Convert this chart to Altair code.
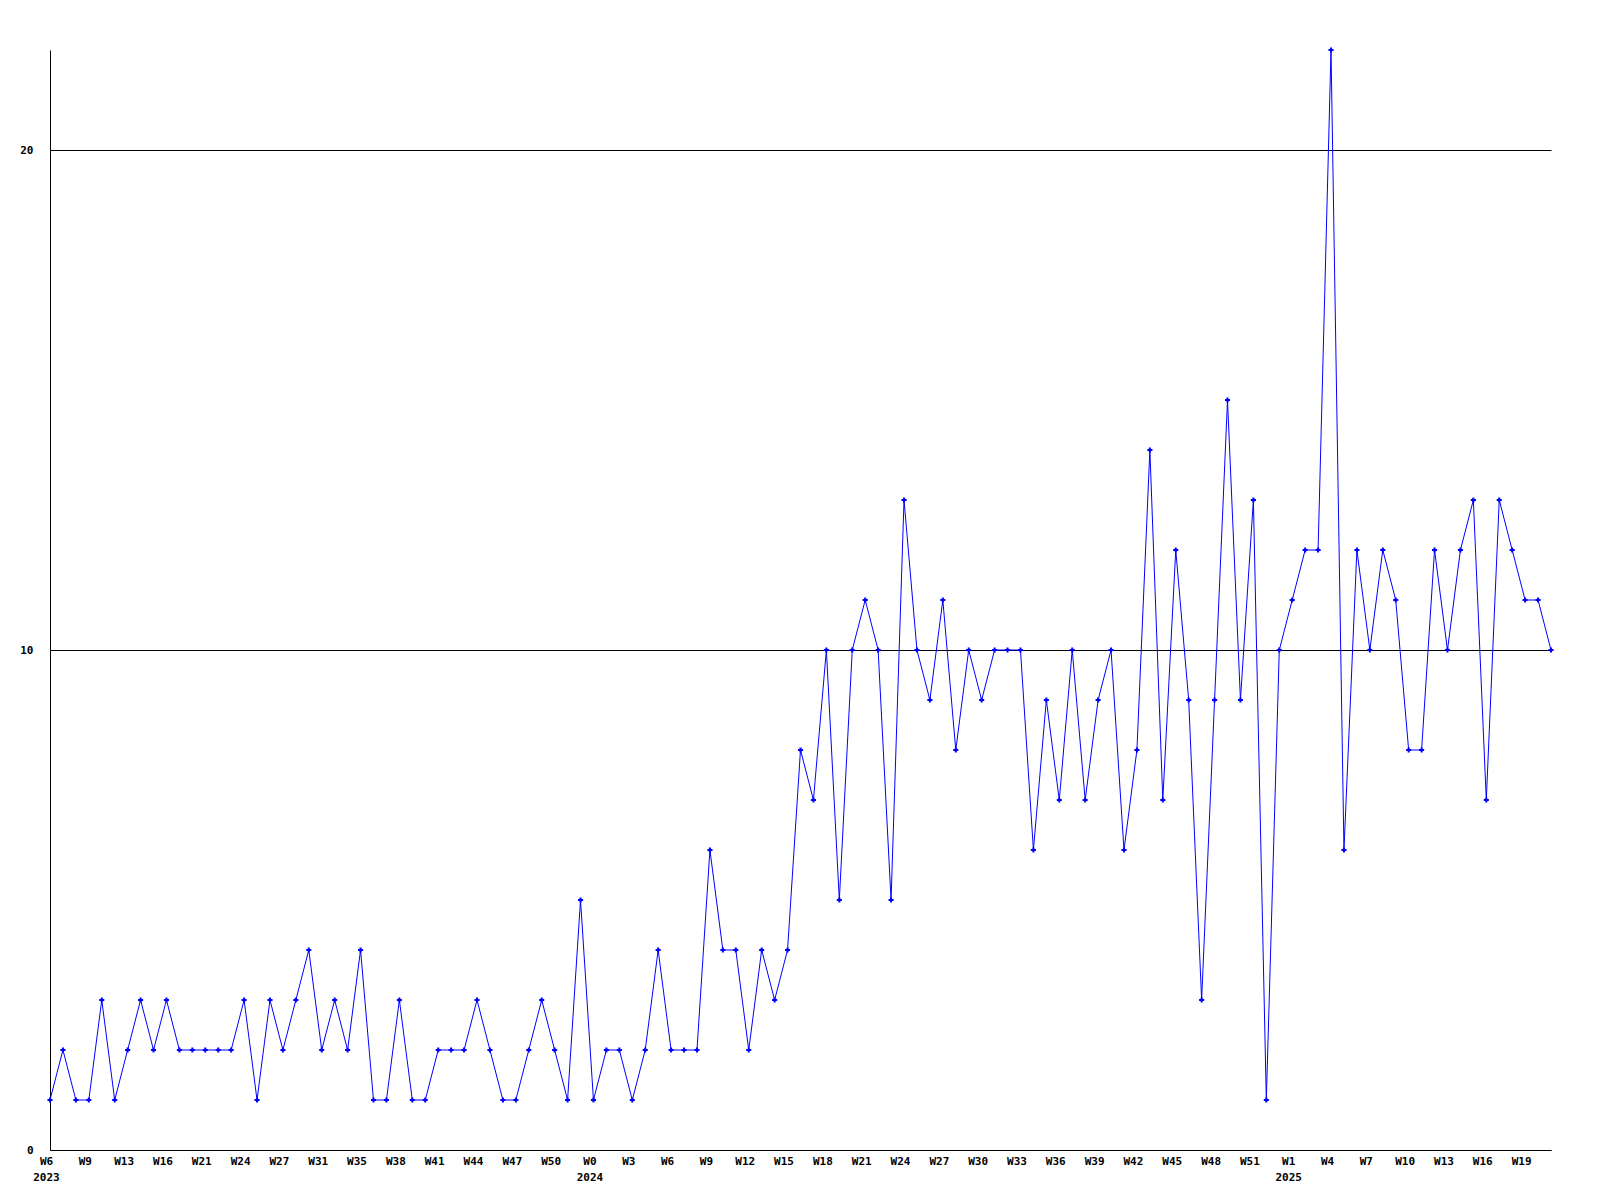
import altair as alt
import pandas as pd

# Weekly counts, one per plotted point (index order, W6 2023 .. ~W21 2025)
values = [
    1, 2, 1, 1, 3, 1, 2, 3, 2, 3,
    2, 2, 2, 2, 2, 3, 1, 3, 2, 3,
    4, 2, 3, 2, 4, 1, 1, 3, 1, 1,
    2, 2, 2, 3, 2, 1, 1, 2, 3, 2,
    1, 5, 1, 2, 2, 1, 2, 4, 2, 2,
    2, 6, 4, 4, 2, 4, 3, 4, 8, 7,
    10, 5, 10, 11, 10, 5, 13, 10, 9, 11,
    8, 10, 9, 10, 10, 10, 6, 9, 7, 10,
    7, 9, 10, 6, 8, 14, 7, 12, 9, 3,
    9, 15, 9, 13, 1, 10, 11, 12, 12, 22,
    6, 12, 10, 12, 11, 8, 8, 12, 10, 12,
    13, 7, 13, 12, 11, 11, 10,
]

# Tick labels, shown at every third point
tick_labels = [
    "W6", "W9", "W13", "W16", "W21", "W24", "W27", "W31", "W35", "W38",
    "W41", "W44", "W47", "W50", "W0", "W3", "W6", "W9", "W12", "W15",
    "W18", "W21", "W24", "W27", "W30", "W33", "W36", "W39", "W42", "W45",
    "W48", "W51", "W1", "W4", "W7", "W10", "W13", "W16", "W19",
]
tick_years = {0: "2023", 14: "2024", 32: "2025"}  # keyed by tick number

df = pd.DataFrame({"idx": list(range(len(values))), "value": values})

tick_positions = [3 * k for k in range(len(tick_labels))]
parts = []
for k, lab in enumerate(tick_labels):
    if k in tick_years:
        parts.append("['%s','%s']" % (lab, tick_years[k]))
    else:
        parts.append("['%s']" % lab)
label_expr = "[" + ",".join(parts) + "][floor(datum.value / 3 + 0.01)]"

FONT = "DejaVu Sans Mono"
BLUE = "#0000ff"

x_axis = alt.Axis(
    values=tick_positions,
    labelExpr=label_expr,
    title=None,
    grid=False,
    ticks=False,
    domainColor="black",
    domainWidth=1,
    labelFont=FONT,
    labelFontSize=11,
    labelFontWeight="bold",
    labelColor="black",
    labelPadding=5,
    labelLineHeight=16,
    labelAlign="center",
    labelOffset=-4,
    labelOverlap=False,
    labelFlush=False,
    labelBound=False,
)
y_axis = alt.Axis(
    values=[0, 10, 20],
    title=None,
    grid=True,
    gridColor="black",
    gridOpacity=1,
    gridWidth=1,
    ticks=False,
    domainColor="black",
    domainWidth=1,
    labelFont=FONT,
    labelFontSize=11,
    labelFontWeight="bold",
    labelColor="black",
    labelPadding=17,
    labelFlush=False,
    labelOverlap=False,
)

x_enc = alt.X("idx:Q", scale=alt.Scale(domain=[0, len(values) - 1], nice=False, zero=False), axis=x_axis)
y_enc = alt.Y("value:Q", scale=alt.Scale(domain=[0, 22], nice=False), axis=y_axis)

base = alt.Chart(df).encode(x=x_enc, y=y_enc)
line = base.mark_line(color=BLUE, strokeWidth=1)
pts = base.mark_point(shape="cross", filled=True, size=26, color=BLUE, opacity=1)

chart = (
    alt.layer(line, pts)
    .properties(
        width=1501,
        height=1100,
        padding={"left": 42, "top": 42, "right": 20, "bottom": 50},
        autosize=alt.AutoSizeParams(type="none"),
        background="white",
    )
    .configure_view(stroke=None)
    .configure_axis(labelOverlap=False)
)

chart.save("out.html", embed_options={"renderer": "svg", "actions": False})
